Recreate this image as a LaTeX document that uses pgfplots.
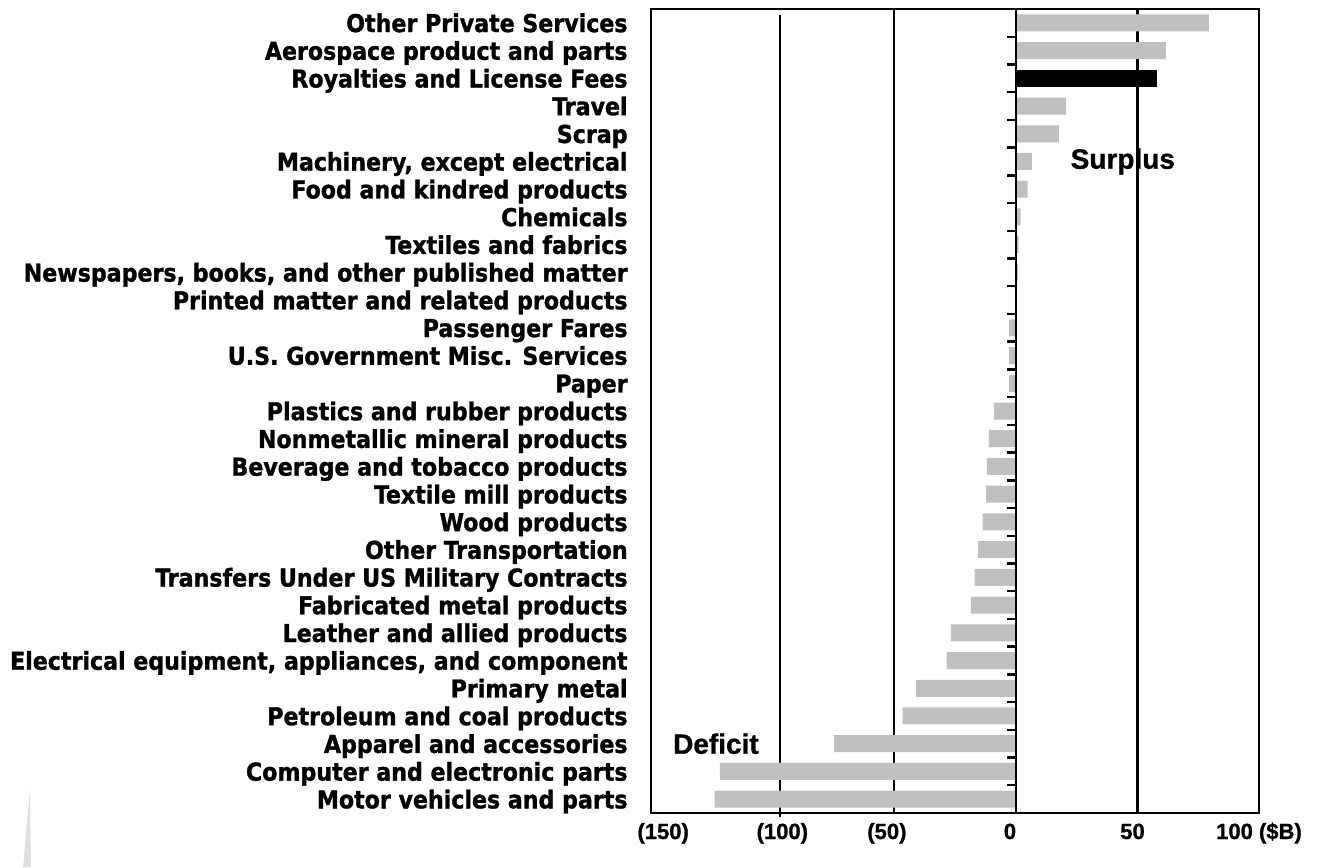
\documentclass[border=0pt]{standalone}
\usepackage{fontspec}
\usepackage{pgfplots}
\pgfplotsset{compat=1.18}
\usepackage{pgfplotstable}
\setmainfont{Liberation Sans}
\newfontfamily\catfont[FakeBold=1.2]{DejaVu Sans Condensed Bold}
\newfontfamily\heavyfont[FakeBold=1]{Liberation Sans Bold}

% Trade balance by sector, $B (row 0 at the top)
\pgfplotstableread{
idx value
0   79.4
1   61.7
3   20.6
4   17.7
5   6.6
6   4.9
7   2.0
8   1.2
9   0.8
10  0.0
11  -2.9
12  -2.9
13  -2.9
14  -9.0
15  -11.1
16  -11.9
17  -12.3
18  -13.6
19  -15.6
20  -16.9
21  -18.5
22  -26.7
23  -28.4
24  -41.1
25  -46.5
26  -74.8
27  -121.7
28  -123.8
}\sectors
\pgfplotstableread{
idx value
2   58.0
}\royalties

\definecolor{bargray}{RGB}{192,192,192}

\begin{document}
\begin{tikzpicture}
\useasboundingbox (0,0) rectangle (660pt,433.5pt);
% faint wedge in the lower-left corner
\fill[black!12] (11.5pt,0) -- (15pt,39.5pt) -- (15.5pt,0) -- cycle;
\begin{axis}[
  at={(325.5pt,27pt)}, anchor=south west,
  scale only axis, width=304pt, height=402pt,
  xmin=-150, xmax=100,
  ymin=-0.5, ymax=28.5, y dir=reverse,
  axis line style={line width=1.1pt},
  clip=false,
  xbar, bar width=8.5pt, bar shift=0pt,
  major tick length=0pt,
  xtick={-145,-96,-53,-2.4,48,100},
  xticklabels={(150),(100),(50),0,50,100\ (\$B)},
  xticklabel style={font=\heavyfont\fontsize{11}{13}\selectfont, anchor=base, yshift=-13pt},
  ytick={0,...,28},
  yticklabels={
    Other Private Services,
    Aerospace product and parts,
    Royalties and License Fees,
    Travel,
    Scrap,
    {Machinery, except electrical},
    Food and kindred products,
    Chemicals,
    Textiles and fabrics,
    {Newspapers, books, and other published matter},
    Printed matter and related products,
    Passenger Fares,
    U.S. Government Misc. Services,
    Paper,
    Plastics and rubber products,
    Nonmetallic mineral products,
    Beverage and tobacco products,
    Textile mill products,
    Wood products,
    Other Transportation,
    Transfers Under US Military Contracts,
    Fabricated metal products,
    Leather and allied products,
    {Electrical equipment, appliances, and component},
    Primary metal,
    Petroleum and coal products,
    Apparel and accessories,
    Computer and electronic parts,
    Motor vehicles and parts},
  yticklabel style={font=\catfont\fontsize{12.3}{14}\selectfont, anchor=base east, inner sep=0pt, xshift=-11.5pt, yshift=-4.6pt},
]
% vertical reference lines
\draw[line width=0.8pt] (axis cs:-97,-0.28) -- (axis cs:-97,28.65);
\draw[line width=1.1pt] (axis cs:-50,-0.5) -- (axis cs:-50,28.5);
\draw[line width=1.1pt] (axis cs:50,-0.5) -- (axis cs:50,28.5);

\addplot[fill=bargray, draw=none] table[x=value, y=idx] {\sectors};
\addplot[fill=black, draw=none] table[x=value, y=idx] {\royalties};

% zero line with separators between rows
\draw[line width=1.3pt] (axis cs:0,-0.5) -- (axis cs:0,28.5);
\pgfplotsinvokeforeach{-0.5,0.5,...,28.5}{
  \draw[line width=1.2pt] (axis cs:0,#1) -- ++(-4.5pt,0pt);
}

\node[font=\heavyfont\fontsize{14}{16}\selectfont] at (axis cs:44,5) {Surplus};
\node[font=\heavyfont\fontsize{14}{16}\selectfont] at (axis cs:-123.3,26) {Deficit};
\end{axis}
\end{tikzpicture}
\end{document}
